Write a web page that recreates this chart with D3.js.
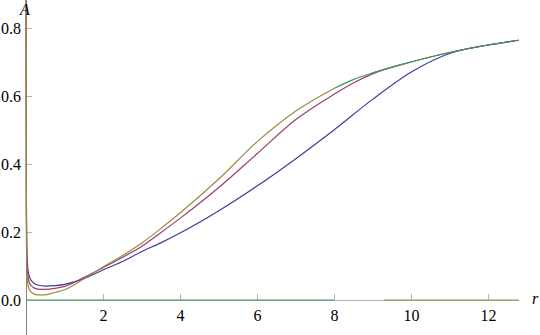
<!DOCTYPE html>
<html>
<head>
<meta charset="utf-8">
<script src="https://cdn.jsdelivr.net/npm/d3@7.9.0/dist/d3.min.js"></script>
<style>
  body { margin: 0; background: #fff; }
  svg { display: block; }
  svg text { font-family: "Liberation Serif", "DejaVu Serif", serif; font-size: 16px; }
</style>
</head>
<body>
<svg width="540" height="335"></svg>
<script>
// sample radii the curves were read at
const rBlue = [0.004, 0.01, 0.02, 0.05, 0.1, 0.2, 0.3, 0.5, 0.75, 1, 1.5, 2, 2.5, 3, 3.5, 4, 5, 6, 7, 8, 9, 10, 11, 12, 12.8];
const aBlue = [0.9, 0.3, 0.16, 0.09, 0.065, 0.05, 0.044, 0.041, 0.042, 0.046, 0.063, 0.088, 0.113, 0.142, 0.168, 0.197, 0.262, 0.335, 0.415, 0.5, 0.59, 0.67, 0.725, 0.75, 0.764];

const rMagenta = [0.004, 0.01, 0.02, 0.05, 0.1, 0.2, 0.3, 0.5, 0.75, 1, 1.5, 2, 2.5, 3, 3.5, 4, 5, 6, 7, 8, 8.5, 9, 10, 11, 12, 12.8];
const aMagenta = [0.9, 0.25, 0.13, 0.07, 0.048, 0.036, 0.032, 0.031, 0.034, 0.04, 0.066, 0.095, 0.125, 0.157, 0.198, 0.24, 0.33, 0.43, 0.53, 0.605, 0.638, 0.665, 0.7, 0.728, 0.75, 0.764];

const rKhaki = [0.004, 0.01, 0.02, 0.05, 0.1, 0.2, 0.3, 0.5, 0.75, 1, 1.5, 2, 2.5, 3, 3.5, 4, 5, 6, 7, 8];
const aKhaki = [0.9, 0.2, 0.1, 0.045, 0.028, 0.018, 0.015, 0.015, 0.022, 0.03, 0.062, 0.097, 0.13, 0.167, 0.21, 0.256, 0.355, 0.465, 0.555, 0.622];

const rGreen = [8, 8.5, 9, 10, 11, 12, 12.8];
const aGreen = [0.622, 0.648, 0.668, 0.7, 0.728, 0.75, 0.764];

// flat pieces lying on the r axis
const flatGreen = [0, 8];
const flatKhaki = [9.3, 12.8];

const xMajor = [2, 4, 6, 8, 10, 12];
const yMajor = [0, 0.2, 0.4, 0.6, 0.8];

const svg = d3.select('svg');

let x = d3.scaleLinear().domain([0, 12.8]).range([26, 518.8]);
let y = d3.scaleLinear().domain([-0.103, 0.8]).range([335, 28]);

// minor ticks
let xMinor = d3.range(0.5, 12.8, 0.5).filter((d) => d % 2 !== 0);
let yMinor = d3.range(-0.1, 0.81, 0.05).filter((d) => Math.abs(Math.round(d * 5) - d * 5) > 1e-6);

const axisColor = '#b3b3b3';

let gx = svg.append('g').attr('transform', `translate(0,${y(0)})`);
gx.call(d3.axisBottom(x).tickValues(xMinor).tickSize(-3.5).tickSizeOuter(0).tickFormat(''));
gx.call(d3.axisBottom(x).tickValues(xMajor).tickSize(-6).tickSizeOuter(0).tickPadding(10).tickFormat(d3.format('d')));
gx.attr('font-family', null).attr('font-size', null);
gx.selectAll('path, line').attr('stroke', axisColor);

let gy = svg.append('g').attr('transform', `translate(${x(0)},0)`);
gy.call(d3.axisLeft(y).tickValues(yMinor).tickSize(-3.5).tickSizeOuter(0).tickFormat(''));
gy.call(d3.axisLeft(y).tickValues(yMajor).tickSize(-6).tickSizeOuter(0).tickPadding(5).tickFormat(d3.format('.1f')));
gy.attr('font-family', null).attr('font-size', null);
gy.selectAll('line').attr('stroke', axisColor);
gy.selectAll('path').attr('stroke', '#8f7e6a');

// curves
let line = d3.line().x((d) => x(d[0])).y((d) => y(d[1])).curve(d3.curveMonotoneX);

svg.append('clipPath').attr('id', 'clip')
  .append('rect').attr('x', 0).attr('y', 0).attr('width', 540).attr('height', 335);

let plot = svg.append('g').attr('clip-path', 'url(#clip)');

let series = [
  { r: rBlue, a: aBlue, color: '#3f3d99' },
  { r: rMagenta, a: aMagenta, color: '#993d71' },
  { r: rKhaki, a: aKhaki, color: '#998b3d' },
  { r: rGreen, a: aGreen, color: '#3d9956' },
];

series.forEach((s) => {
  plot.append('path')
    .attr('d', line(s.r.map((r, i) => [r, s.a[i]])))
    .attr('fill', 'none')
    .attr('stroke', s.color)
    .attr('stroke-width', 1.2);
});

plot.append('path')
  .attr('d', line(flatGreen.map((r) => [r, 0])))
  .attr('stroke', '#3d9956').attr('stroke-width', 1.2).attr('fill', 'none');
plot.append('path')
  .attr('d', line(flatKhaki.map((r) => [r, 0])))
  .attr('stroke', '#998b3d').attr('stroke-width', 1.2).attr('fill', 'none');

// axis labels
svg.append('text').attr('x', 25).attr('y', 15).attr('text-anchor', 'middle')
  .attr('font-style', 'italic').text('A');
svg.append('text').attr('x', 535).attr('y', 304).attr('text-anchor', 'middle')
  .attr('font-style', 'italic').text('r');
</script>
</body>
</html>
